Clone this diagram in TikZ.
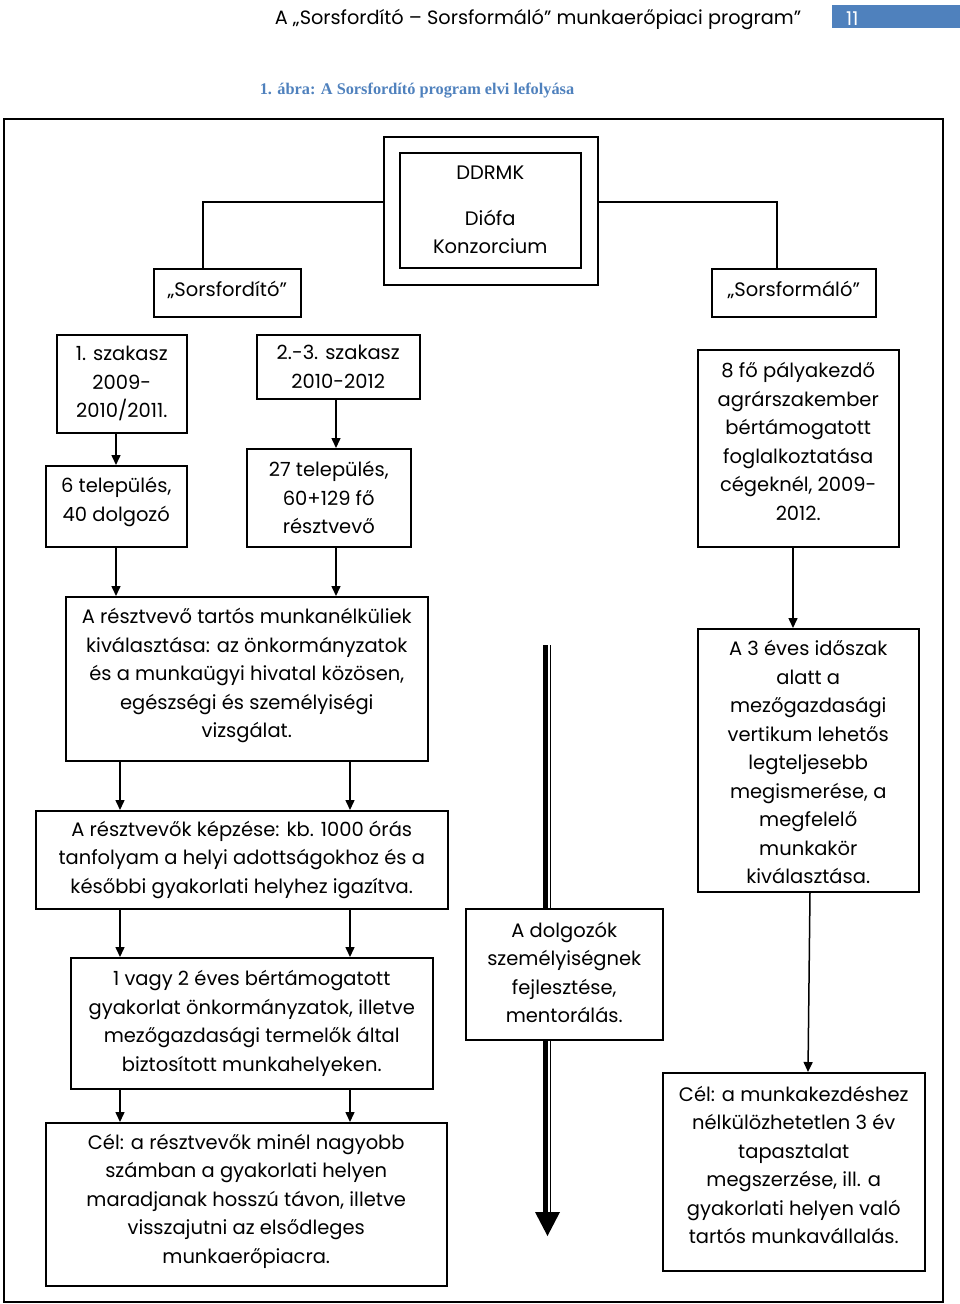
\documentclass[tikz,border=0pt]{standalone}
\usepackage{fontspec}
\newfontfamily\gothic{Poppins}
\setmainfont{Liberation Serif}
\usetikzlibrary{arrows.meta,calc}
\definecolor{hdrblue}{RGB}{79,129,189}
\definecolor{capblue}{RGB}{79,129,189}
\tikzset{
  box/.style={draw, line width=1.5pt, inner sep=0pt, align=center, anchor=north west,
    font=\gothic\fontsize{19.5}{28.5}\selectfont},
  txt/.style={inner sep=0pt, align=center, font=\gothic\fontsize{19.5}{28.5}\selectfont},
  conn/.style={line width=1.5pt},
  arr/.style={line width=1.5pt, -{Triangle[width=9pt,length=10pt]}},
}
\begin{document}
\begin{tikzpicture}[x=1pt,y=-1pt]
\useasboundingbox (0,0) rectangle (960,1304);
% header
\fill[hdrblue] (832,5) rectangle (960,28);
\node[anchor=west, text=white, font=\gothic\fontsize{19}{22}\selectfont, inner sep=0pt] (pnum) at (846,19) {11};
\node[font=\gothic\fontsize{19.3}{22}\selectfont, inner sep=0pt] (hdr) at (538,19) {A „Sorsfordító – Sorsformáló” munkaerőpiaci program”};
\node[font=\bfseries\fontsize{16.3}{18}\selectfont, text=capblue, inner sep=0pt] (cap) at (417,91) {1. ábra: A Sorsfordító program elvi lefolyása};
% outer frame
\draw[line width=1.5pt] (4,119) rectangle (943,1302);
% top
\node[box, minimum width=214pt, minimum height=148pt] (ddo) at (383,136) {};
\node[box, minimum width=181pt, minimum height=115pt] (ddi) at (399,152) {DDRMK\\[17pt]Diófa\\Konzorcium};
\node[box, minimum width=147pt, minimum height=48pt] (sf) at (153,268) {};
\node[txt] (sft) at ($(sf.center)+(0,-3)$) {„Sorsfordító”};
\node[box, minimum width=164pt, minimum height=48pt] (sm) at (711,268) {};
\node[txt] (smt) at ($(sm.center)+(0,-3)$) {„Sorsformáló”};
\coordinate (tl) at (203,202);
\coordinate (tr) at (777,202);
\draw[conn] (ddo.west |- tl) -- (tl) -- (tl |- sf.north);
\draw[conn] (ddo.east |- tr) -- (tr) -- (tr |- sm.north);
% left column upper
\node[box, minimum width=130pt, minimum height=98pt] (sz1) at (56,334) {1. szakasz\\2009-\\2010/2011.};
\node[box, minimum width=163pt, minimum height=64pt] (sz2) at (256,334) {2.-3. szakasz\\2010-2012};
\node[box, minimum width=141pt, minimum height=81pt] (t6) at (45,465) {};
\node[txt] (t6t) at ($(t6.center)+(0,-4)$) {6 település,\\40 dolgozó};
\node[box, minimum width=164pt, minimum height=98pt] (t27) at (246,448) {27 település,\\60+129 fő\\résztvevő};
\node[box, minimum width=201pt, minimum height=197pt] (f8) at (697,349) {};
\node[txt] (f8t) at ($(f8.center)+(0,-7)$) {8 fő pályakezdő\\agrárszakember\\bértámogatott\\foglalkoztatása\\cégeknél, 2009-\\2012.};
\coordinate (xa) at (116,0);
\coordinate (xb) at (336,0);
\draw[arr] (sz1.south -| xa) -- (t6.north -| xa);
\draw[arr] (sz2.south -| xb) -- (t27.north -| xb);
% selection etc
\node[box, minimum width=362pt, minimum height=164pt] (sel) at (65,596) {};
\node[txt] (selt) at ($(sel.center)+(0,-3)$) {A résztvevő tartós munkanélküliek\\kiválasztása: az önkormányzatok\\és a munkaügyi hivatal közösen,\\egészségi és személyiségi\\vizsgálat.};
\draw[arr] (t6.south -| xa) -- (sel.north -| xa);
\draw[arr] (t27.south -| xb) -- (sel.north -| xb);
\node[box, minimum width=412pt, minimum height=98pt] (kep) at (35,810) {A résztvevők képzése: kb. 1000 órás\\tanfolyam a helyi adottságokhoz és a\\későbbi gyakorlati helyhez igazítva.};
\node[box, minimum width=362pt, minimum height=131pt] (gyak) at (70,957) {1 vagy 2 éves bértámogatott\\gyakorlat önkormányzatok, illetve\\mezőgazdasági termelők által\\biztosított munkahelyeken.};
\node[box, minimum width=401pt, minimum height=163pt] (cel1) at (45,1122) {};
\node[txt] (cel1t) at ($(cel1.center)+(0,-3)$) {Cél: a résztvevők minél nagyobb\\számban a gyakorlati helyen\\maradjanak hosszú távon, illetve\\visszajutni az elsődleges\\munkaerőpiacra.};
\coordinate (xc) at (120,0);
\coordinate (xd) at (350,0);
\draw[arr] (sel.south -| xc) -- (kep.north -| xc);
\draw[arr] (sel.south -| xd) -- (kep.north -| xd);
\draw[arr] (kep.south -| xc) -- (gyak.north -| xc);
\draw[arr] (kep.south -| xd) -- (gyak.north -| xd);
\draw[arr] (gyak.south -| xc) -- (cel1.north -| xc);
\draw[arr] (gyak.south -| xd) -- (cel1.north -| xd);
% right column
\node[box, minimum width=221pt, minimum height=263pt] (ev3) at (697,628) {};
\node[txt] (ev3t) at ($(ev3.center)+(0,2)$) {A 3 éves időszak\\alatt a\\mezőgazdasági\\vertikum lehetős\\legteljesebb\\megismerése, a\\megfelelő\\munkakör\\kiválasztása.};
\node[box, minimum width=262pt, minimum height=198pt] (cel2) at (662,1072) {};
\node[txt] (cel2t) at ($(cel2.center)+(0,-7)$) {Cél: a munkakezdéshez\\nélkülözhetetlen 3 év\\tapasztalat\\megszerzése, ill. a\\gyakorlati helyen való\\tartós munkavállalás.};
\coordinate (xe) at (793,0);
\coordinate (xf) at (810,0);
\coordinate (xg) at (808,0);
\draw[arr] (f8.south -| xe) -- (ev3.north -| xe);
\draw[arr] (ev3.south -| xf) -- (cel2.north -| xg);
% middle
\node[box, minimum width=197pt, minimum height=131pt] (mid) at (465,908) {};
\node[txt] (midt) at ($(mid.center)+(0,-2)$) {A dolgozók\\személyiségnek\\fejlesztése,\\mentorálás.};
\coordinate (ms) at (545.5,645);
\coordinate (me) at (545.5,1214);
\coordinate (mt) at (547.5,1236);
\draw[line width=5pt] (ms) -- (ms |- mid.north);
\draw[line width=1.2pt] ($(ms)+(5,0)$) -- ($(ms |- mid.north)+(5,0)$);
\draw[line width=5pt] (ms |- mid.south) -- (me);
\draw[line width=1.2pt] ($(ms |- mid.south)+(5,0)$) -- ($(me)+(5,0)$);
\fill (535,1212) -- (560,1212) -- (mt) -- cycle;
\end{tikzpicture}
\end{document}
